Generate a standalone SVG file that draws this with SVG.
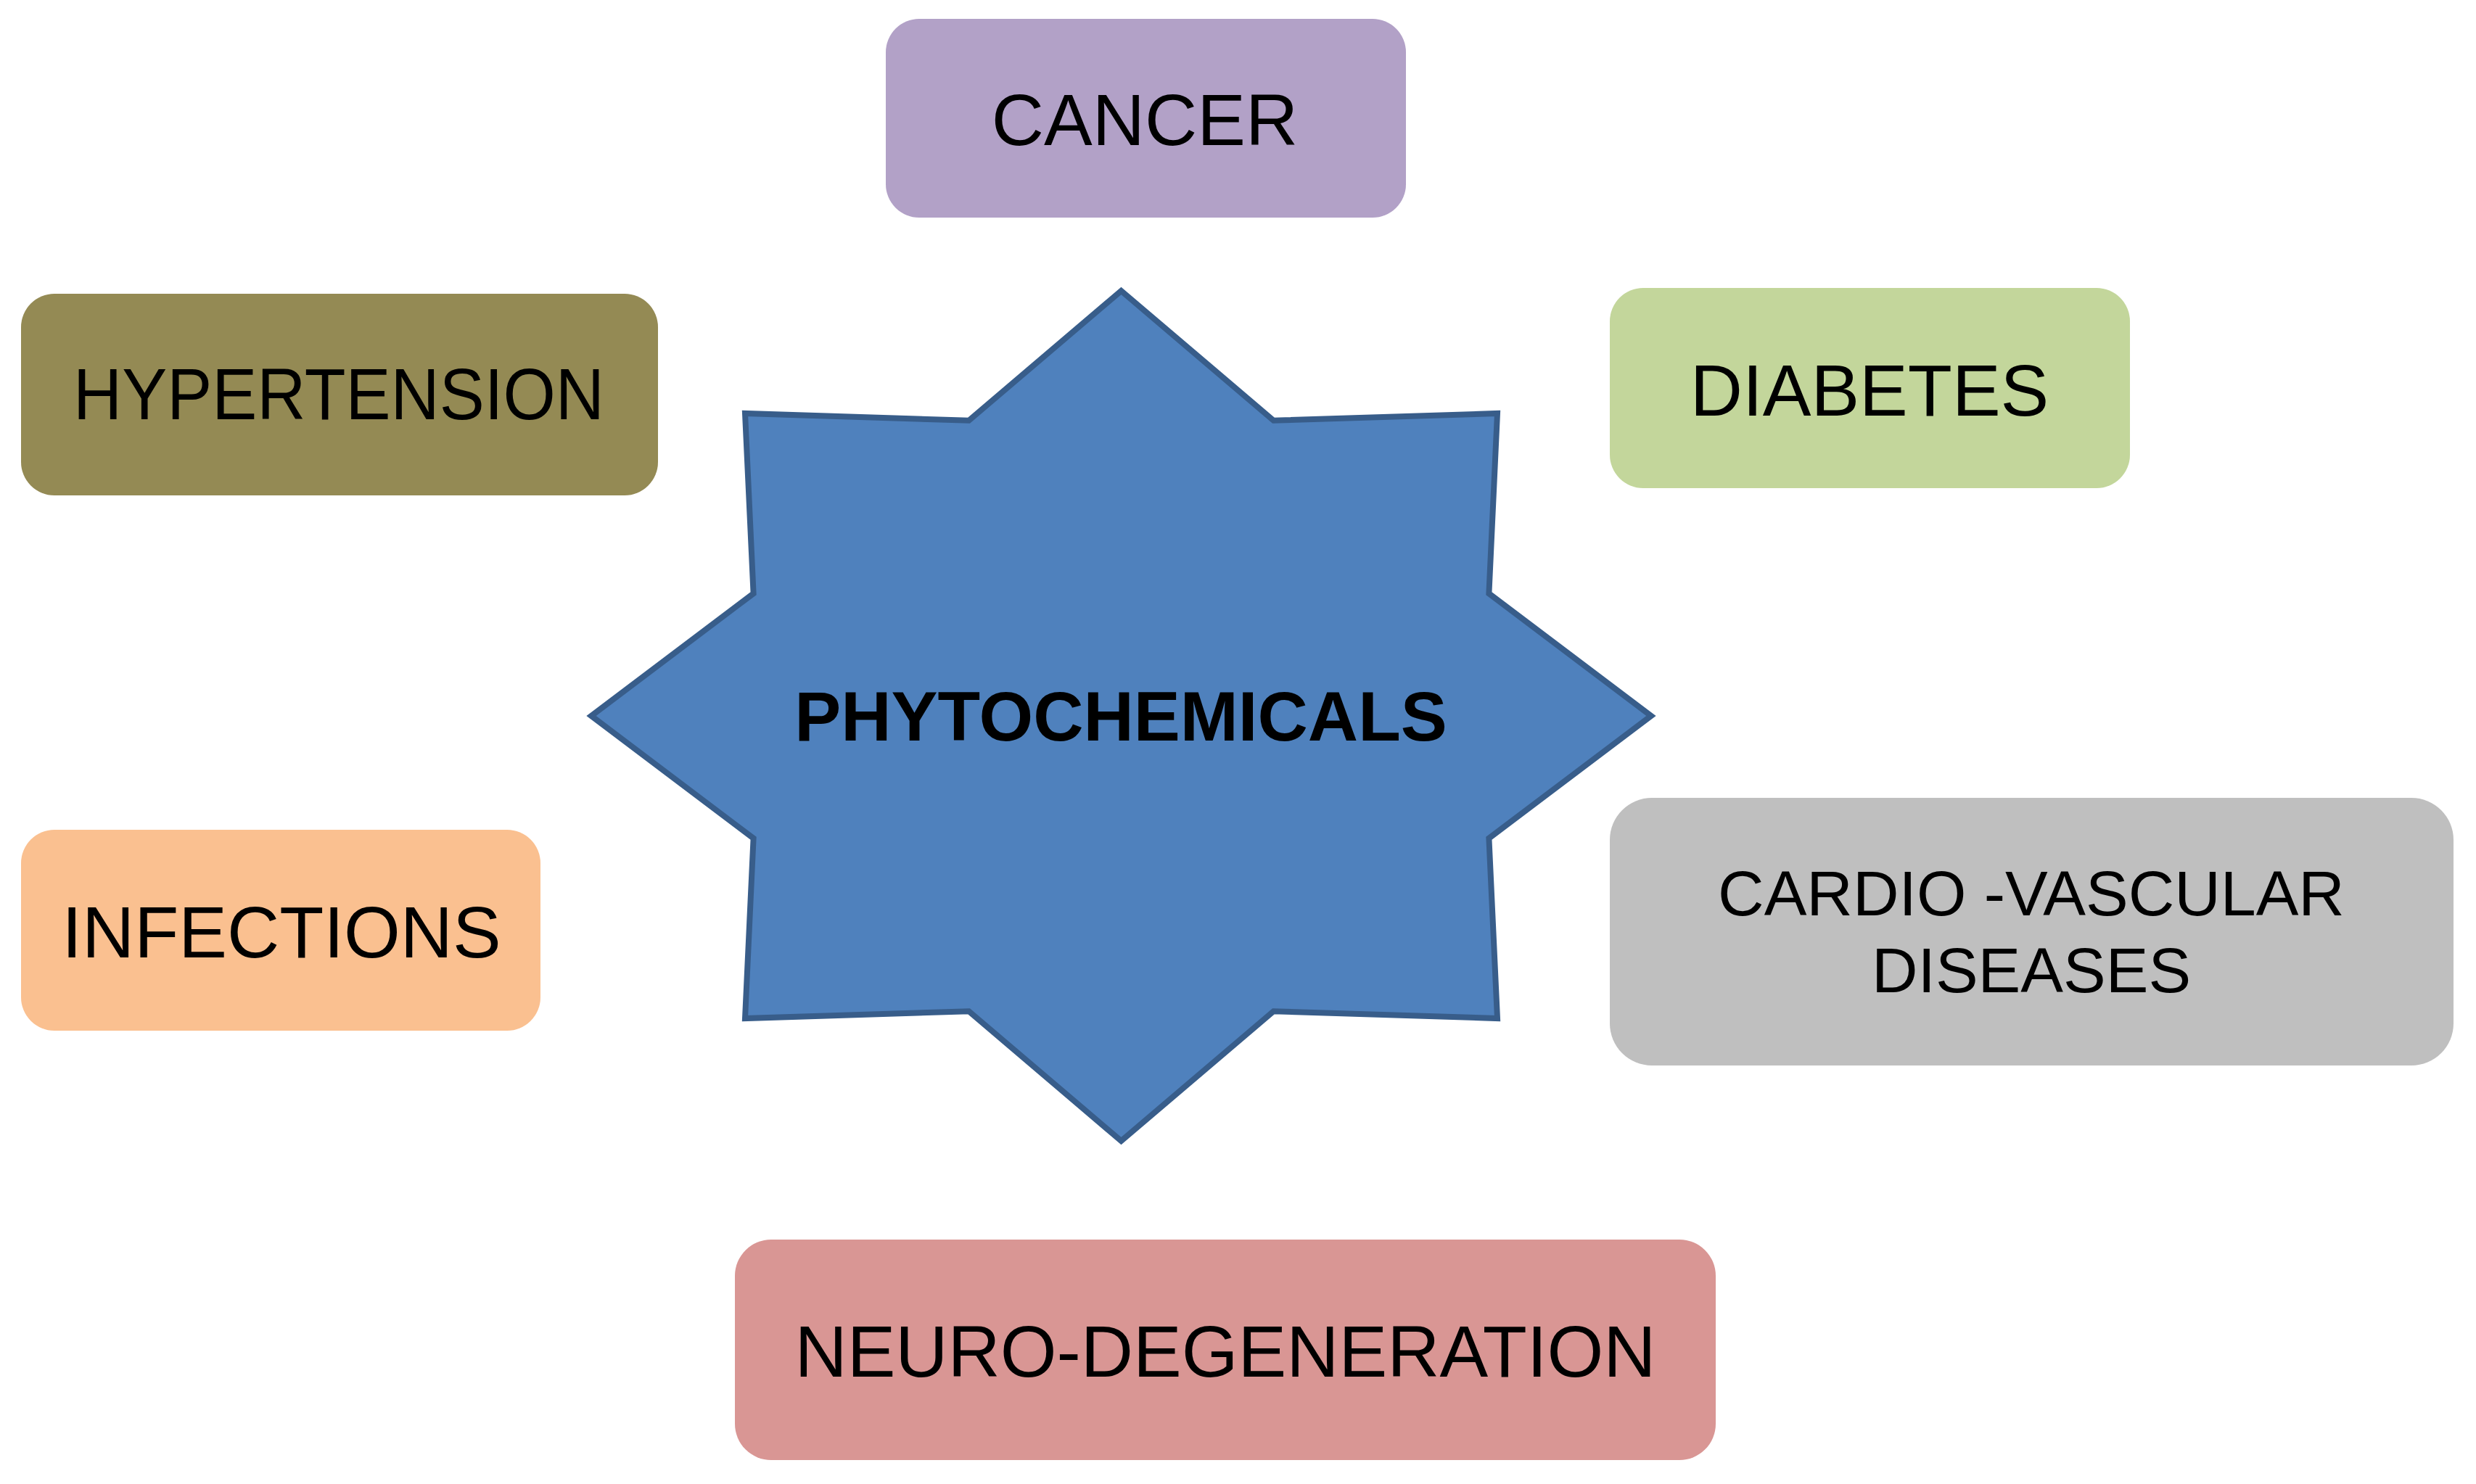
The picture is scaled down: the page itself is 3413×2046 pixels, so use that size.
<svg xmlns="http://www.w3.org/2000/svg" width="3413" height="2046" viewBox="0 0 3413 2046">
<style>
  .lbl { font-family: "Liberation Sans", Arial, sans-serif; font-size: 100px; fill: #000000; text-anchor: middle; }
  .ctr { font-family: "Liberation Sans", Arial, sans-serif; font-size: 96px; font-weight: bold; fill: #000000; text-anchor: middle; }
  .star { fill: #4f81bd; stroke: #385d8a; stroke-width: 8; stroke-linejoin: miter; stroke-miterlimit: 20; }
</style>
<rect x="0" y="0" width="3413" height="2046" fill="#ffffff"/>
<g id="connectors"></g>
<g id="phytochemicals">
  <polygon class="star" points="1545.5,401 1755.5,579.7 2064,570 2052.4,818.3 2276,987 2052.4,1155.7 2064,1404 1755.5,1394.3 1545.5,1573 1335.5,1394.3 1027,1404 1038.6,1155.7 815,987 1038.6,818.3 1027,570 1335.5,579.7"/>
  <text class="ctr" x="1545" y="1021">PHYTOCHEMICALS</text>
</g>
<g id="cancer">
  <rect x="1221" y="26" width="717" height="274" rx="46" ry="46" fill="#b2a1c7"/>
  <text class="lbl" x="1578" y="200">CANCER</text>
</g>
<g id="hypertension">
  <rect x="29" y="405" width="878" height="278" rx="46" ry="46" fill="#948a54"/>
  <text class="lbl" x="467" y="578" textLength="732" lengthAdjust="spacingAndGlyphs">HYPERTENSION</text>
</g>
<g id="diabetes">
  <rect x="2219" y="397" width="717" height="276" rx="46" ry="46" fill="#c3d69b"/>
  <text class="lbl" x="2577" y="573">DIABETES</text>
</g>
<g id="infections">
  <rect x="29" y="1144" width="716" height="277" rx="46" ry="46" fill="#fac090"/>
  <text class="lbl" x="388" y="1320">INFECTIONS</text>
</g>
<g id="cardiovascular">
  <rect x="2219" y="1100" width="1163" height="369" rx="58" ry="58" fill="#bfbfbf"/>
  <text class="lbl" x="2800" y="1262" style="font-size:88px">CARDIO -VASCULAR</text>
  <text class="lbl" x="2800" y="1368" style="font-size:88px">DISEASES</text>
</g>
<g id="neurodegeneration">
  <rect x="1013" y="1709" width="1352" height="304" rx="50" ry="50" fill="#d99694"/>
  <text class="lbl" x="1689" y="1898">NEURO-DEGENERATION</text>
</g>
</svg>
